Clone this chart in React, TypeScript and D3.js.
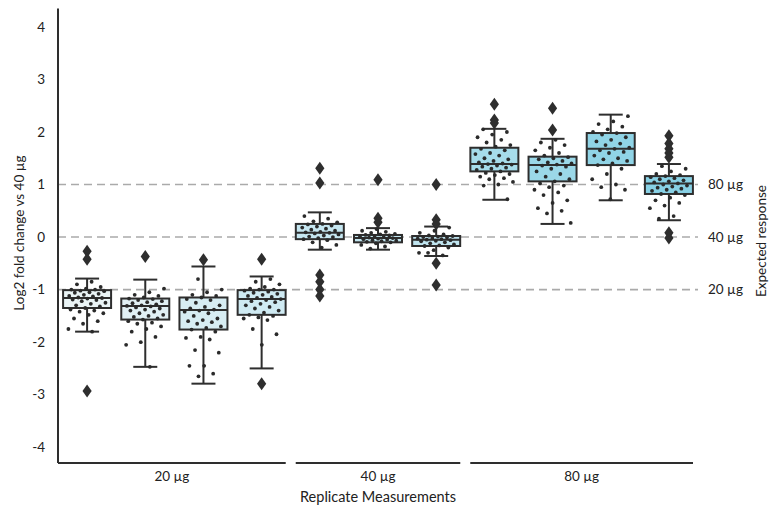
import React, { useEffect, useRef } from "react";
import * as d3 from "d3";

// replicate labels / groups
const groups = ["20 µg", "40 µg", "80 µg"];
const replicateGroup = [0, 0, 0, 0, 1, 1, 1, 2, 2, 2, 2];

// box stats
const q1 = [-1.35, -1.57, -1.76, -1.48, -0.04, -0.1, -0.17, 1.25, 1.06, 1.37, 0.82];
const medians = [-1.16, -1.31, -1.39, -1.18, 0.08, -0.02, -0.05, 1.39, 1.37, 1.68, 1.02];
const q3 = [-1.01, -1.17, -1.15, -1.01, 0.25, 0.04, 0.02, 1.7, 1.53, 1.98, 1.16];
const whiskerLow = [-1.8, -2.47, -2.79, -2.5, -0.24, -0.24, -0.36, 0.71, 0.25, 0.7, 0.32];
const whiskerHigh = [-0.79, -0.81, -0.56, -0.75, 0.47, 0.17, 0.2, 2.06, 1.87, 2.33, 1.39];

const outliers = [
    [-0.27, -0.42, -2.93],
    [-0.37],
    [-0.43],
    [-0.42, -2.79],
    [1.31, 1.03, -0.72, -0.85, -1.0, -1.12],
    [1.09, 0.36, 0.28],
    [1.0, 0.33, 0.25, -0.5, -0.91],
    [2.53, 2.23, 2.17],
    [2.45, 2.04],
    [],
    [1.93, 1.78, 1.68, 1.6, 1.52, 0.08, -0.02],
];

const points = [
    [-0.85, -0.9, -0.95, -0.98, -1.0, -1.0, -1.02, -1.03, -1.05, -1.06, -1.08, -1.1, -1.12, -1.13, -1.15, -1.16, -1.17, -1.19, -1.2, -1.22, -1.25, -1.27, -1.3, -1.32, -1.35, -1.38, -1.4, -1.42, -1.45, -1.48, -1.55, -1.6, -1.65, -1.75, -1.8],
    [-0.98, -1.05, -1.1, -1.12, -1.15, -1.17, -1.18, -1.2, -1.22, -1.24, -1.26, -1.28, -1.3, -1.31, -1.32, -1.34, -1.36, -1.38, -1.4, -1.42, -1.45, -1.48, -1.5, -1.52, -1.55, -1.57, -1.6, -1.63, -1.65, -1.7, -1.75, -1.8, -1.9, -2.0, -2.05, -2.47],
    [-0.8, -1.0, -1.05, -1.1, -1.12, -1.15, -1.18, -1.2, -1.25, -1.3, -1.33, -1.36, -1.38, -1.4, -1.42, -1.45, -1.5, -1.55, -1.58, -1.6, -1.62, -1.65, -1.7, -1.73, -1.76, -1.8, -1.9, -1.92, -1.95, -2.15, -2.2, -2.45, -2.45, -2.6, -2.65],
    [-0.8, -0.85, -0.9, -0.95, -0.98, -1.0, -1.0, -1.02, -1.04, -1.06, -1.08, -1.1, -1.12, -1.14, -1.16, -1.18, -1.2, -1.22, -1.24, -1.27, -1.3, -1.33, -1.36, -1.4, -1.44, -1.48, -1.5, -1.53, -1.55, -1.58, -1.75, -1.85, -2.05],
    [0.4, 0.35, 0.3, 0.28, 0.25, 0.24, 0.22, 0.2, 0.18, 0.16, 0.14, 0.12, 0.1, 0.09, 0.08, 0.07, 0.05, 0.03, 0.01, 0.0, -0.02, -0.04, -0.06, -0.1, -0.15, -0.2],
    [0.15, 0.12, 0.1, 0.08, 0.06, 0.05, 0.04, 0.03, 0.02, 0.01, 0.0, -0.01, -0.02, -0.03, -0.04, -0.05, -0.06, -0.07, -0.08, -0.09, -0.1, -0.12, -0.15, -0.18, -0.22],
    [0.18, 0.12, 0.08, 0.05, 0.03, 0.02, 0.01, 0.0, -0.01, -0.02, -0.03, -0.04, -0.05, -0.06, -0.07, -0.08, -0.1, -0.12, -0.14, -0.16, -0.17, -0.2, -0.25, -0.3, -0.35, -0.3],
    [2.05, 2.0, 1.95, 1.9, 1.85, 1.8, 1.75, 1.72, 1.68, 1.65, 1.6, 1.58, 1.55, 1.5, 1.48, 1.45, 1.42, 1.4, 1.39, 1.38, 1.36, 1.34, 1.32, 1.3, 1.28, 1.25, 1.22, 1.2, 1.18, 1.15, 1.12, 1.1, 1.05, 1.0, 0.98, 0.72],
    [1.85, 1.8, 1.75, 1.7, 1.65, 1.6, 1.55, 1.52, 1.5, 1.48, 1.45, 1.42, 1.4, 1.38, 1.36, 1.34, 1.3, 1.25, 1.2, 1.15, 1.1, 1.06, 1.02, 0.98, 0.95, 0.9, 0.85, 0.8, 0.7, 0.65, 0.55, 0.5, 0.45, 0.27],
    [2.3, 2.2, 2.15, 2.1, 2.05, 2.0, 1.98, 1.95, 1.9, 1.85, 1.82, 1.78, 1.75, 1.7, 1.68, 1.65, 1.62, 1.6, 1.55, 1.5, 1.48, 1.45, 1.4, 1.37, 1.3, 1.2, 1.1, 1.0, 0.95, 0.9, 0.72],
    [1.35, 1.3, 1.25, 1.2, 1.18, 1.16, 1.14, 1.12, 1.1, 1.08, 1.06, 1.04, 1.02, 1.0, 0.98, 0.96, 0.94, 0.92, 0.9, 0.88, 0.85, 0.82, 0.8, 0.75, 0.7, 0.65, 0.6, 0.55, 0.4, 0.35],
];

const boxColors = ["#eaf4f6", "#e1f0f4", "#d7edf3", "#cfeaf2", "#c6e7f1", "#c3e6f0", "#c0e5f0", "#a6dcea", "#9bd8e8", "#90d4e6", "#88d1e5"];

const yTicks = [4, 3, 2, 1, 0, -1, -2, -3, -4];
const refLines = [1, 0, -1];
const refLabels = ["80 µg", "40 µg", "20 µg"];

const FONT = "Lato, 'Open Sans', sans-serif";

function App() {
    const svgRef = useRef(null);

    useEffect(() => {
        const width = 769;
        const height = 508;
        const left = 58;
        const right = 698;
        const top = 8.5;
        const bottom = 463;
        const ink = "#2e2e2e";

        const svg = d3.select(svgRef.current)
            .attr("width", width)
            .attr("height", height);
        svg.selectAll("*").remove();

        const x = d3.scaleBand()
            .domain(d3.range(q1.length).map(String))
            .range([left, right])
            .padding(0);
        const y = d3.scaleLinear()
            .domain([-4.3, 4.35])
            .range([bottom, top]);

        const bw = x.bandwidth() * 0.825;
        const cx = i => x(String(i)) + x.bandwidth() / 2;

        // reference lines
        svg.append("g")
            .selectAll("line")
            .data(refLines)
            .join("line")
            .attr("x1", left)
            .attr("x2", right)
            .attr("y1", d => y(d))
            .attr("y2", d => y(d))
            .attr("stroke", "#aaaaaa")
            .attr("stroke-width", 1.6)
            .attr("stroke-dasharray", "8,5");

        svg.append("g")
            .selectAll("text")
            .data(refLines)
            .join("text")
            .attr("x", right + 10)
            .attr("y", d => y(d))
            .attr("dy", "0.35em")
            .attr("font-family", FONT)
            .attr("font-size", 13.5)
            .attr("fill", "#222")
            .text((d, i) => refLabels[i]);

        svg.append("text")
            .attr("transform", `translate(766,${y(0) + 4}) rotate(-90)`)
            .attr("text-anchor", "middle")
            .attr("font-family", FONT)
            .attr("font-size", 13.5)
            .attr("fill", "#222")
            .text("Expected response");

        // y axis
        svg.append("line")
            .attr("x1", left).attr("x2", left)
            .attr("y1", top).attr("y2", bottom)
            .attr("stroke", ink).attr("stroke-width", 2);

        svg.append("g")
            .selectAll("text")
            .data(yTicks)
            .join("text")
            .attr("x", left - 13)
            .attr("y", d => y(d))
            .attr("dy", "0.35em")
            .attr("text-anchor", "end")
            .attr("font-family", FONT)
            .attr("font-size", 13.5)
            .attr("fill", "#222")
            .text(d => d);

        svg.append("text")
            .attr("transform", `translate(24,${y(0) - 4}) rotate(-90)`)
            .attr("text-anchor", "middle")
            .attr("font-family", FONT)
            .attr("font-size", 13.5)
            .attr("fill", "#222")
            .text("Log2 fold change vs 40 µg");

        // grouped x axis segments
        groups.forEach((g, gi) => {
            const idx = replicateGroup.map((v, i) => v === gi ? i : -1).filter(i => i >= 0);
            const x0 = gi === 0 ? left : x(String(idx[0])) + 5;
            const x1 = x(String(idx[idx.length - 1])) + x.bandwidth() - 5;
            svg.append("line")
                .attr("x1", x0).attr("x2", x1)
                .attr("y1", bottom).attr("y2", bottom)
                .attr("stroke", ink).attr("stroke-width", 2);
            svg.append("text")
                .attr("x", (x0 + x1) / 2)
                .attr("y", bottom + 18)
                .attr("text-anchor", "middle")
                .attr("font-family", FONT)
                .attr("font-size", 13.5)
                .attr("fill", "#222")
                .text(g);
        });

        svg.append("text")
            .attr("x", 378)
            .attr("y", 502)
            .attr("text-anchor", "middle")
            .attr("font-family", FONT)
            .attr("font-size", 14.5)
            .attr("fill", "#222")
            .text("Replicate Measurements");

        // boxes
        const boxes = svg.append("g")
            .selectAll("g")
            .data(q1.map((d, i) => i))
            .join("g");

        boxes.append("line")
            .attr("x1", i => cx(i)).attr("x2", i => cx(i))
            .attr("y1", i => y(whiskerHigh[i])).attr("y2", i => y(q3[i]))
            .attr("stroke", ink).attr("stroke-width", 2);
        boxes.append("line")
            .attr("x1", i => cx(i)).attr("x2", i => cx(i))
            .attr("y1", i => y(q1[i])).attr("y2", i => y(whiskerLow[i]))
            .attr("stroke", ink).attr("stroke-width", 2);
        boxes.append("line")
            .attr("x1", i => cx(i) - bw / 4).attr("x2", i => cx(i) + bw / 4)
            .attr("y1", i => y(whiskerHigh[i])).attr("y2", i => y(whiskerHigh[i]))
            .attr("stroke", ink).attr("stroke-width", 2);
        boxes.append("line")
            .attr("x1", i => cx(i) - bw / 4).attr("x2", i => cx(i) + bw / 4)
            .attr("y1", i => y(whiskerLow[i])).attr("y2", i => y(whiskerLow[i]))
            .attr("stroke", ink).attr("stroke-width", 2);
        boxes.append("rect")
            .attr("x", i => cx(i) - bw / 2)
            .attr("width", bw)
            .attr("y", i => y(q3[i]))
            .attr("height", i => y(q1[i]) - y(q3[i]))
            .attr("fill", i => boxColors[i])
            .attr("stroke", ink).attr("stroke-width", 2);
        boxes.append("line")
            .attr("x1", i => cx(i) - bw / 2).attr("x2", i => cx(i) + bw / 2)
            .attr("y1", i => y(medians[i])).attr("y2", i => y(medians[i]))
            .attr("stroke", ink).attr("stroke-width", 2);

        // outlier diamonds
        boxes.selectAll("path")
            .data(i => outliers[i].map(v => ({ i, v })))
            .join("path")
            .attr("d", d => {
                const px = cx(d.i), py = y(d.v);
                return `M${px},${py - 6.5}L${px + 4.6},${py}L${px},${py + 6.5}L${px - 4.6},${py}Z`;
            })
            .attr("fill", ink);

        // stripplot points with deterministic jitter
        boxes.selectAll("circle")
            .data(i => points[i].map((v, k) => ({ i, v, k })))
            .join("circle")
            .attr("cx", d => cx(d.i) + ((((d.k + 1) * 0.6180339 + d.i * 0.37) % 1) - 0.5) * bw * 0.8)
            .attr("cy", d => y(d.v))
            .attr("r", 1.9)
            .attr("fill", "#2a2a2a");
    }, []);

    return (
        <svg ref={svgRef} style={{ position: "absolute", left: 0, top: 0 }}></svg>
    );
}

export default App;
